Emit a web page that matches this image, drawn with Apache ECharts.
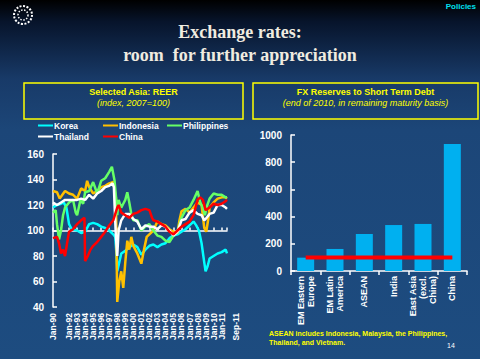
<!DOCTYPE html>
<html><head><meta charset="utf-8">
<script src="https://cdn.jsdelivr.net/npm/echarts@6/dist/echarts.min.js"></script>
<style>html,body{margin:0;padding:0;background:#000;}#c{width:480px;height:359px;}</style>
</head><body><div id="c"></div>
<script>
// ---- Left chart: REER, x = months since Jan-1990 ----
const yearLabels = ['Jan-90','Jan-91','Jan-92','Jan-93','Jan-94','Jan-95','Jan-96','Jan-97','Jan-98','Jan-99','Jan-00','Jan-01','Jan-02','Jan-03','Jan-04','Jan-05','Jan-06','Jan-07','Jan-08','Jan-09','Jan-10','Jan-11'];
const lastLabel = 'Sep-11';
const lastMonth = 260;

const korea = [[0,118],[6,120],[12,121],[16,122],[20,118],[24,105],[28,101],[36,100],[42,98],[48,99],[54,105],[60,106],[66,105],[72,103],[78,102],[84,100],[90,97],[93,95],[95,80],[96,68],[99,75],[102,82],[108,84],[114,87],[120,89],[126,87],[132,81],[138,85],[144,88],[150,89],[156,87],[162,89],[168,90],[174,94],[180,96],[186,97],[192,99],[198,101],[204,104],[210,107],[214,104],[218,100],[222,90],[226,75],[228,68],[231,72],[234,78],[240,80],[246,82],[252,83],[258,85],[260,82]];
const indonesia = [[0,131],[6,130],[10,125],[14,128],[18,131],[24,129],[30,128],[36,125],[42,133],[48,131],[51,139],[54,134],[60,129],[66,131],[72,134],[78,135],[84,137],[90,138],[94,126],[96,44],[99,60],[102,68],[105,55],[108,75],[111,92],[114,85],[117,95],[120,88],[126,82],[132,74],[136,85],[140,95],[144,97],[150,100],[156,107],[162,105],[168,104],[174,101],[180,99],[186,98],[189,108],[192,115],[198,117],[204,114],[210,118],[216,122],[222,120],[226,102],[229,99],[232,109],[234,118],[240,122],[246,125],[252,126],[258,126],[260,125]];
const philippines = [[0,114],[4,116],[6,105],[9,93],[12,100],[15,112],[18,118],[24,122],[30,124],[34,114],[36,112],[41,124],[45,121],[48,130],[54,131],[60,138],[66,129],[72,139],[78,141],[84,146],[88,150],[92,139],[95,121],[96,112],[98,124],[102,118],[105,121],[108,124],[111,130],[114,122],[117,113],[120,108],[126,108],[132,100],[138,103],[144,105],[150,100],[156,96],[162,95],[168,92],[174,91],[180,96],[186,99],[192,110],[198,116],[204,118],[210,124],[216,131],[220,122],[224,118],[227,112],[230,119],[234,125],[240,129],[246,128],[252,128],[258,126],[260,126]];
const thailand = [[0,122],[6,120],[12,122],[18,124],[24,124],[30,124],[36,124],[42,125],[48,124],[54,128],[60,125],[66,129],[72,131],[78,134],[84,135],[89,137],[91,134],[92,120],[94,95],[96,80],[98,100],[102,108],[108,113],[114,113],[120,109],[126,107],[132,101],[138,104],[144,103],[150,103],[156,101],[162,104],[168,103],[174,100],[180,96],[186,99],[192,108],[198,109],[204,114],[210,116],[216,113],[222,112],[226,108],[228,109],[234,113],[240,114],[246,120],[252,120],[258,118],[260,117]];
const china = [[0,94],[6,95],[9,90],[12,82],[15,85],[18,80],[21,90],[24,99],[30,101],[36,105],[42,108],[47,110],[48,76],[52,80],[56,85],[60,88],[66,91],[72,95],[78,99],[84,104],[90,108],[96,118],[98,120],[102,114],[108,112],[114,110],[120,113],[126,114],[132,116],[138,117],[144,116],[148,110],[150,108],[156,107],[162,105],[168,103],[174,99],[180,97],[186,100],[192,103],[198,105],[204,107],[210,112],[216,124],[220,126],[224,124],[228,116],[234,118],[240,121],[246,120],[252,121],[258,123],[260,124]];

// ---- Right chart ----
const regions = ['EM Eastern\nEurope','EM Latin\nAmerica','ASEAN','India','East Asia\n(excl.\nChina)','China'];
const reserveRatio = [98,162,272,338,346,934];
const threshold = [100,100,100,100,100,100];

const W = '#ffffff';
const FONT = 'Liberation Sans';
const chart = echarts.init(document.getElementById('c'), null, {renderer:'svg'});

function legendAt(name, left, top){
  return {data:[name], left:left, top:top, icon:'rect', itemWidth:15, itemHeight:2, padding:0,
    textStyle:{color:W, fontFamily:FONT, fontWeight:'bold', fontSize:8.5, padding:[0,0,0,-4]}};
}

chart.setOption({
  backgroundColor:{type:'linear',x:0,y:0,x2:0,y2:1,colorStops:[
    {offset:0,color:'#000000'},{offset:0.06,color:'#07142b'},{offset:0.22,color:'#183a68'},
    {offset:0.36,color:'#1c4678'},{offset:1,color:'#1d4c80'}]},
  animation:false,
  grid:[
    {left:53, top:154, width:174, height:153},
    {left:291, top:135, width:176, height:136}
  ],
  legend:[
    legendAt('Korea',38,121), legendAt('Indonesia',103,121), legendAt('Philippines',167,121),
    legendAt('Thailand',38,132), legendAt('China',103,132)
  ],
  xAxis:[
    {type:'value', gridIndex:0, min:0, max:lastMonth, interval:12,
     axisLine:{show:false}, axisTick:{show:false}, splitLine:{show:false},
     axisLabel:{rotate:90, margin:6, color:W, fontFamily:FONT, fontWeight:'bold', fontSize:8.5,
       showMaxLabel:true, showMinLabel:true,
       formatter:function(v){ if (v===lastMonth) return '{s|'+lastLabel+'}'; const i=v/12; return Number.isInteger(i)?yearLabels[i]:''; },
       rich:{s:{color:W, fontFamily:FONT, fontWeight:'bold', fontSize:8.5, padding:[18,0,0,0]}}}},
    {type:'value', gridIndex:0, min:0, max:lastMonth, interval:12, position:'bottom', offset:-76.5,
     axisLine:{show:true, lineStyle:{color:W, width:1.5}},
     axisTick:{show:true, inside:true, length:3, lineStyle:{color:W, width:1.5}},
     axisLabel:{show:false}, splitLine:{show:false}},
    {type:'category', gridIndex:1, data:regions,
     axisLine:{lineStyle:{color:W, width:1.5}},
     axisTick:{show:true, length:4, lineStyle:{color:W, width:1.5}},
     axisLabel:{interval:0, rotate:90, margin:5, color:W, fontFamily:FONT, fontWeight:'bold', fontSize:9, lineHeight:10}}
  ],
  yAxis:[
    {type:'value', gridIndex:0, min:40, max:160, interval:20,
     axisLine:{show:true, lineStyle:{color:W, width:1.5}},
     axisTick:{show:true, inside:true, length:4, lineStyle:{color:W, width:1.5}},
     splitLine:{show:false},
     axisLabel:{color:W, fontFamily:FONT, fontWeight:'bold', fontSize:10, margin:9}},
    {type:'value', gridIndex:1, min:0, max:1000, interval:200,
     axisLine:{show:true, lineStyle:{color:W, width:1.5}},
     axisTick:{show:true, inside:true, length:4, lineStyle:{color:W, width:1.5}},
     splitLine:{show:false},
     axisLabel:{color:W, fontFamily:FONT, fontWeight:'bold', fontSize:10, margin:9, formatter:function(v){return String(v);}}}
  ],
  series:[
    {name:'Korea', type:'line', xAxisIndex:0, yAxisIndex:0, data:korea, showSymbol:false, symbol:'none', color:'#00ffff', lineStyle:{width:2.5}},
    {name:'Indonesia', type:'line', xAxisIndex:0, yAxisIndex:0, data:indonesia, showSymbol:false, symbol:'none', color:'#ffc000', lineStyle:{width:2.5}},
    {name:'Philippines', type:'line', xAxisIndex:0, yAxisIndex:0, data:philippines, showSymbol:false, symbol:'none', color:'#66ff66', lineStyle:{width:2.5}},
    {name:'Thailand', type:'line', xAxisIndex:0, yAxisIndex:0, data:thailand, showSymbol:false, symbol:'none', color:'#ffffff', lineStyle:{width:2.5}},
    {name:'China', type:'line', xAxisIndex:0, yAxisIndex:0, data:china, showSymbol:false, symbol:'none', color:'#ff0000', lineStyle:{width:2.5}},
    {name:'Reserves/STD', type:'bar', xAxisIndex:2, yAxisIndex:1, data:reserveRatio, barWidth:17, itemStyle:{color:'#00b0f0'}},
    {name:'Threshold', type:'line', xAxisIndex:2, yAxisIndex:1, data:threshold, symbol:'none', color:'#ff0000', lineStyle:{width:4, color:'#ff0000'}, z:5}
  ],
  graphic:[
    {type:'circle', shape:{cx:23, cy:15, r:9}, style:{fill:'none', stroke:'#ffffff', lineWidth:2, lineDash:[2,1.5]}},
    {type:'circle', shape:{cx:23, cy:15, r:5}, style:{fill:'none', stroke:'#ffffff', lineWidth:1.5, lineDash:[1.5,1.5]}},
    {type:'text', right:4, top:2, style:{text:'Policies', fill:'#00e0f0', font:'bold 8px "Liberation Sans"'}},
    {type:'text', x:240, y:32, style:{text:'Exchange rates:', fill:'#f0ece0', font:'bold 18px "Liberation Serif"', textAlign:'center', textVerticalAlign:'middle', textShadowColor:'#000', textShadowOffsetX:1.5, textShadowOffsetY:1.5, textShadowBlur:0}},
    {type:'text', x:240, y:55, style:{text:'room  for further appreciation', fill:'#f0ece0', font:'bold 18px "Liberation Serif"', textAlign:'center', textVerticalAlign:'middle', textShadowColor:'#000', textShadowOffsetX:1.5, textShadowOffsetY:1.5, textShadowBlur:0}},
    {type:'rect', shape:{x:24, y:83, width:219, height:36}, style:{fill:'none', stroke:'#ffff00', lineWidth:1.5}},
    {type:'rect', shape:{x:253, y:83, width:225, height:36}, style:{fill:'none', stroke:'#ffff00', lineWidth:1.5}},
    {type:'text', x:133.5, y:92, style:{text:'Selected Asia: REER', fill:'#ffff00', font:'bold 9px "Liberation Sans"', textAlign:'center', textVerticalAlign:'middle'}},
    {type:'text', x:133.5, y:103, style:{text:'(index, 2007=100)', fill:'#ffff00', font:'italic 9px "Liberation Sans"', textAlign:'center', textVerticalAlign:'middle'}},
    {type:'text', x:365.5, y:92, style:{text:'FX Reserves to Short Term Debt', fill:'#ffff00', font:'bold 9px "Liberation Sans"', textAlign:'center', textVerticalAlign:'middle'}},
    {type:'text', x:365.5, y:103, style:{text:'(end of 2010, in remaining maturity basis)', fill:'#ffff00', font:'italic 9px "Liberation Sans"', textAlign:'center', textVerticalAlign:'middle'}},
    {type:'text', x:269, y:333, style:{text:'ASEAN includes Indonesia, Malaysia, the Philippines,', fill:'#ffff00', font:'bold 7px "Liberation Sans"', textVerticalAlign:'middle'}},
    {type:'text', x:269, y:342, style:{text:'Thailand, and Vietnam.', fill:'#ffff00', font:'bold 7px "Liberation Sans"', textVerticalAlign:'middle'}},
    {type:'text', x:447, y:345, style:{text:'14', fill:'#ffffff', font:'7px "Liberation Sans"', textVerticalAlign:'middle'}}
  ]
});
</script></body></html>
